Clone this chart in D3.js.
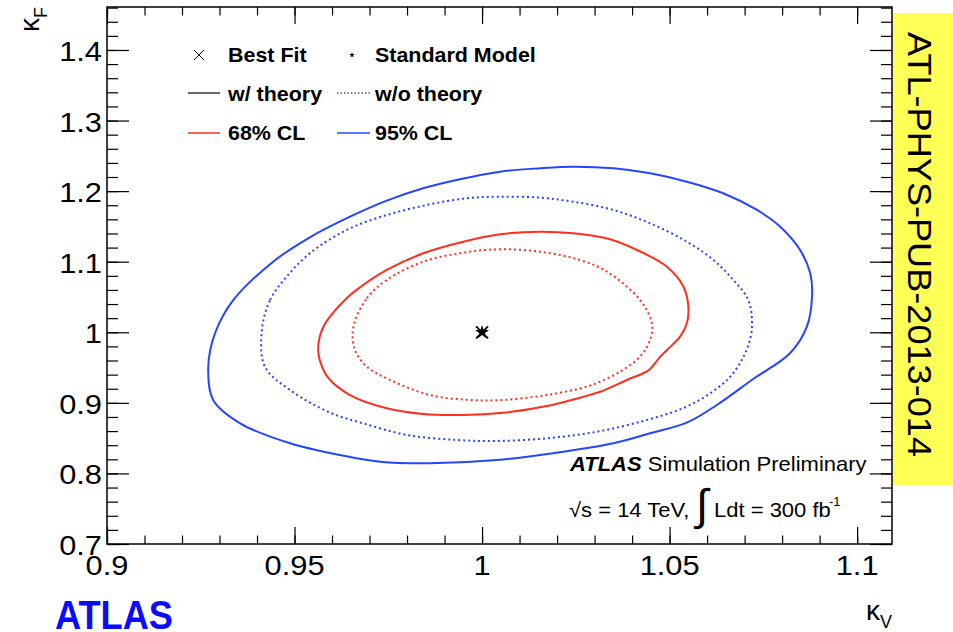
<!DOCTYPE html>
<html>
<head>
<meta charset="utf-8">
<script src="https://cdn.jsdelivr.net/npm/d3@7"></script>
<style>
  html, body { margin: 0; padding: 0; background: #fff; }
  svg { display: block; }
  text { font-family: "Liberation Sans", Arial, Helvetica, sans-serif; fill: #000; }
</style>
</head>
<body>
<div id="chart"></div>
<script>
'use strict';

// contour points, [kappaV, kappaF]
var cl95Theory = [
  [0.9270, 0.9512], [0.9288, 0.9986], [0.9337, 1.0458], [0.9443, 1.1000], [0.9541, 1.1346],
  [0.9648, 1.1638], [0.9746, 1.1865], [0.9843, 1.2040], [0.9941, 1.2168], [1.0048, 1.2276],
  [1.0155, 1.2324], [1.0243, 1.2346], [1.0350, 1.2324], [1.0448, 1.2253], [1.0546, 1.2134],
  [1.0643, 1.1970], [1.0733, 1.1733], [1.0795, 1.1496], [1.0848, 1.1166], [1.0875, 1.0836],
  [1.0880, 1.0528], [1.0866, 1.0079], [1.0821, 0.9702], [1.0723, 0.9338],
  [1.0626, 0.8970], [1.0546, 0.8719], [1.0448, 0.8569], [1.0350, 0.8427], [1.0217, 0.8308],
  [1.0039, 0.8190], [0.9861, 0.8144], [0.9728, 0.8166], [0.9621, 0.8261], [0.9488, 0.8427],
  [0.9355, 0.8710], [0.9283, 0.9041]
];
var cl95NoTheory = [
  [0.9413, 1.0032], [0.9435, 1.0458], [0.9479, 1.0788], [0.9541, 1.1119], [0.9639, 1.1450],
  [0.9746, 1.1662], [0.9853, 1.1804], [0.9959, 1.1899], [1.0048, 1.1921], [1.0155, 1.1907],
  [1.0243, 1.1851], [1.0350, 1.1733], [1.0448, 1.1544], [1.0546, 1.1284], [1.0617, 1.1024],
  [1.0670, 1.0741], [1.0710, 1.0458], [1.0719, 1.0032], [1.0697, 0.9654], [1.0653, 0.9324],
  [1.0555, 0.8970], [1.0439, 0.8757], [1.0306, 0.8591], [1.0173, 0.8498], [1.0039, 0.8460],
  [0.9933, 0.8474], [0.9799, 0.8545], [0.9683, 0.8710], [0.9595, 0.8861], [0.9488, 0.9182],
  [0.9421, 0.9512]
];
var cl68Theory = [
  [0.9563, 0.9749], [0.9577, 1.0079], [0.9639, 1.0482], [0.9683, 1.0670], [0.9746, 1.0883],
  [0.9843, 1.1119], [0.9950, 1.1284], [1.0048, 1.1389], [1.0155, 1.1425], [1.0243, 1.1403],
  [1.0341, 1.1318], [1.0413, 1.1166], [1.0493, 1.0929], [1.0537, 1.0646], [1.0550, 1.0363],
  [1.0546, 1.0127], [1.0528, 0.9938], [1.0493, 0.9749], [1.0475, 0.9654], [1.0461, 0.9561],
  [1.0443, 0.9456], [1.0386, 0.9324], [1.0315, 0.9158], [1.0270, 0.9087], [1.0173, 0.8956],
  [1.0057, 0.8861], [0.9950, 0.8828], [0.9843, 0.8842], [0.9746, 0.8923], [0.9648, 0.9111],
  [0.9595, 0.9324], [0.9577, 0.9466]
];
var cl68NoTheory = [
  [0.9657, 1.0079], [0.9693, 1.0482], [0.9746, 1.0741], [0.9843, 1.1000], [0.9950, 1.1128],
  [1.0048, 1.1176], [1.0155, 1.1142], [1.0261, 1.1024], [1.0333, 1.0859], [1.0421, 1.0458],
  [1.0453, 1.0127], [1.0448, 0.9891], [1.0421, 0.9654], [1.0368, 0.9442], [1.0315, 0.9300],
  [1.0279, 0.9229], [1.0173, 0.9111], [1.0057, 0.9041], [0.9968, 0.9041], [0.9861, 0.9111],
  [0.9755, 0.9324], [0.9693, 0.9512], [0.9661, 0.9749]
];
var bestFit = [1.0, 1.0];
var standardModel = [1.0, 1.0];

var xTicks = [0.9, 0.95, 1, 1.05, 1.1];
var xTickLabels = ['0.9', '0.95', '1', '1.05', '1.1'];
var yTicks = [0.7, 0.8, 0.9, 1, 1.1, 1.2, 1.3, 1.4];
var yTickLabels = ['0.7', '0.8', '0.9', '1', '1.1', '1.2', '1.3', '1.4'];

var RED = '#ff2f1f',
    BLUE = '#2545ff',
    W = 953,
    H = 632,
    SX = 1.1,
    frame = { left: 107, right: 892, top: 7, bottom: 544 };

var x = d3.scaleLinear().domain([0.9, 1.1093]).range([frame.left, frame.right]);
var y = d3.scaleLinear().domain([0.7, 1.4609]).range([frame.bottom, frame.top]);

var svg = d3.select('#chart').append('svg')
  .attr('width', W)
  .attr('height', H);

svg.append('rect').attr('width', W).attr('height', H).attr('fill', '#fff');

// text drawn slightly wide, like the original canvas
function wideText(parent, px, py, anchor) {
  return parent.append('g')
    .attr('transform', 'translate(' + px + ',' + py + ') scale(' + SX + ',1)')
    .append('text')
      .attr('text-anchor', anchor || 'start');
}

svg.append('clipPath').attr('id', 'frame-clip')
  .append('rect')
    .attr('x', frame.left).attr('y', frame.top)
    .attr('width', frame.right - frame.left)
    .attr('height', frame.bottom - frame.top);

// contours
var line = d3.line()
  .x(function (d) { return x(d[0]); })
  .y(function (d) { return y(d[1]); })
  .curve(d3.curveCatmullRomClosed.alpha(0.5));

var contours = [
  { pts: cl95Theory, color: BLUE, dash: null },
  { pts: cl95NoTheory, color: BLUE, dash: '2,3' },
  { pts: cl68Theory, color: RED, dash: null },
  { pts: cl68NoTheory, color: RED, dash: '2,3' }
];

svg.append('g').attr('clip-path', 'url(#frame-clip)')
  .selectAll('path')
  .data(contours)
  .enter().append('path')
    .attr('d', function (d) { return line(d.pts); })
    .attr('fill', 'none')
    .attr('stroke', function (d) { return d.color; })
    .attr('stroke-width', 2)
    .attr('stroke-dasharray', function (d) { return d.dash; });

// markers
function cross(g, cx, cy, r, w) {
  g.append('path')
    .attr('d', 'M' + (cx - r) + ',' + (cy - r) + 'L' + (cx + r) + ',' + (cy + r) +
               'M' + (cx - r) + ',' + (cy + r) + 'L' + (cx + r) + ',' + (cy - r))
    .attr('stroke', '#000')
    .attr('stroke-width', w);
}
function star(g, cx, cy, size) {
  g.append('path')
    .attr('d', d3.symbol().type(d3.symbolStar).size(size)())
    .attr('transform', 'translate(' + cx + ',' + cy + ')')
    .attr('fill', '#000');
}

cross(svg, x(bestFit[0]), y(bestFit[1]), 6, 1.8);
star(svg, x(standardModel[0]), y(standardModel[1]), 60);

// ticks
function tickSet(axis, vals, size, tx, ty) {
  svg.append('g')
    .attr('transform', 'translate(' + tx + ',' + ty + ')')
    .call(axis.tickValues(vals).tickSize(size).tickFormat(''))
    .call(function (g) { g.select('.domain').remove(); })
    .selectAll('line').attr('stroke', '#000').attr('stroke-width', 1.2);
}

var xMinor = d3.range(0, 21).map(function (i) { return 0.9 + i * 0.01; });
var yMinor = d3.range(0, 39).map(function (i) { return 0.7 + i * 0.02; });

tickSet(d3.axisBottom(x), xMinor, -8.5, 0, frame.bottom);
tickSet(d3.axisBottom(x), xTicks, -17, 0, frame.bottom);
tickSet(d3.axisTop(x), xMinor, -8.5, 0, frame.top);
tickSet(d3.axisTop(x), xTicks, -17, 0, frame.top);
tickSet(d3.axisLeft(y), yMinor, -11, frame.left, 0);
tickSet(d3.axisLeft(y), yTicks, -22, frame.left, 0);
tickSet(d3.axisRight(y), yMinor, -11, frame.right, 0);
tickSet(d3.axisRight(y), yTicks, -22, frame.right, 0);

svg.append('rect')
  .attr('x', frame.left).attr('y', frame.top)
  .attr('width', frame.right - frame.left)
  .attr('height', frame.bottom - frame.top)
  .attr('fill', 'none')
  .attr('stroke', '#000')
  .attr('stroke-width', 1.5);

// tick labels
xTicks.forEach(function (v, i) {
  wideText(svg, x(v), frame.bottom + 31, 'middle')
    .attr('font-size', 28)
    .text(xTickLabels[i]);
});
yTicks.forEach(function (v, i) {
  wideText(svg, frame.left - 5, y(v) + 11, 'end')
    .attr('font-size', 28)
    .text(yTickLabels[i]);
});

// axis titles
var yTitle = svg.append('g')
  .attr('transform', 'translate(39,' + frame.top + ') rotate(-90)')
  .append('text')
    .attr('text-anchor', 'end')
    .attr('font-size', 28);
yTitle.append('tspan').text('κ');
yTitle.append('tspan').attr('font-size', 18).attr('dy', 8).text('F');

var xTitle = svg.append('text')
  .attr('x', frame.right)
  .attr('y', 620)
  .attr('text-anchor', 'end')
  .attr('font-size', 28);
xTitle.append('tspan').text('κ');
xTitle.append('tspan').attr('font-size', 18).attr('dy', 8).text('V');

// legend
var legend = svg.append('g');
cross(legend, 199, 55, 5, 1);
star(legend, 352, 55, 10);
legend.append('line').attr('x1', 188).attr('x2', 220).attr('y1', 93).attr('y2', 93)
  .attr('stroke', '#000').attr('stroke-width', 1.2);
legend.append('line').attr('x1', 337).attr('x2', 370).attr('y1', 93).attr('y2', 93)
  .attr('stroke', '#000').attr('stroke-width', 1.2).attr('stroke-dasharray', '1.5,2');
legend.append('line').attr('x1', 188).attr('x2', 220).attr('y1', 133).attr('y2', 133)
  .attr('stroke', RED).attr('stroke-width', 1.5);
legend.append('line').attr('x1', 337).attr('x2', 370).attr('y1', 133).attr('y2', 133)
  .attr('stroke', BLUE).attr('stroke-width', 1.5);

var legendLabels = [
  ['Best Fit', 228, 62], ['Standard Model', 375, 62],
  ['w/ theory', 228, 101], ['w/o theory', 375, 101],
  ['68% CL', 228, 140], ['95% CL', 375, 140]
];
legendLabels.forEach(function (l) {
  wideText(legend, l[1], l[2])
    .attr('font-size', 19.5)
    .attr('font-weight', 'bold')
    .text(l[0]);
});

// ATLAS label
var atl = wideText(svg, 570, 471).attr('font-size', 20);
atl.append('tspan').attr('font-weight', 'bold').attr('font-style', 'italic').text('ATLAS');
atl.append('tspan').text(' Simulation Preliminary');

wideText(svg, 569, 517).attr('font-size', 20).text('√s = 14 TeV,');
svg.append('text').attr('x', 696).attr('y', 520).attr('font-size', 44).text('∫');
wideText(svg, 714, 517).attr('font-size', 20).text('Ldt = 300 fb');
svg.append('text').attr('x', 829).attr('y', 506).attr('font-size', 13).text('-1');

// bottom-left logo
svg.append('text')
  .attr('x', 55).attr('y', 629)
  .attr('font-size', 41)
  .attr('font-weight', 'bold')
  .style('fill', '#0b0bff')
  .attr('textLength', 118)
  .attr('lengthAdjust', 'spacingAndGlyphs')
  .text('ATLAS');

// note tag on the right
svg.append('rect')
  .attr('x', 893).attr('y', 13)
  .attr('width', 60).attr('height', 472)
  .attr('fill', '#ffff55');
svg.append('g')
  .attr('transform', 'translate(908,32) rotate(90)')
  .append('text')
    .attr('font-size', 34)
    .attr('textLength', 425)
    .attr('lengthAdjust', 'spacingAndGlyphs')
    .text('ATL-PHYS-PUB-2013-014');
</script>
</body>
</html>
